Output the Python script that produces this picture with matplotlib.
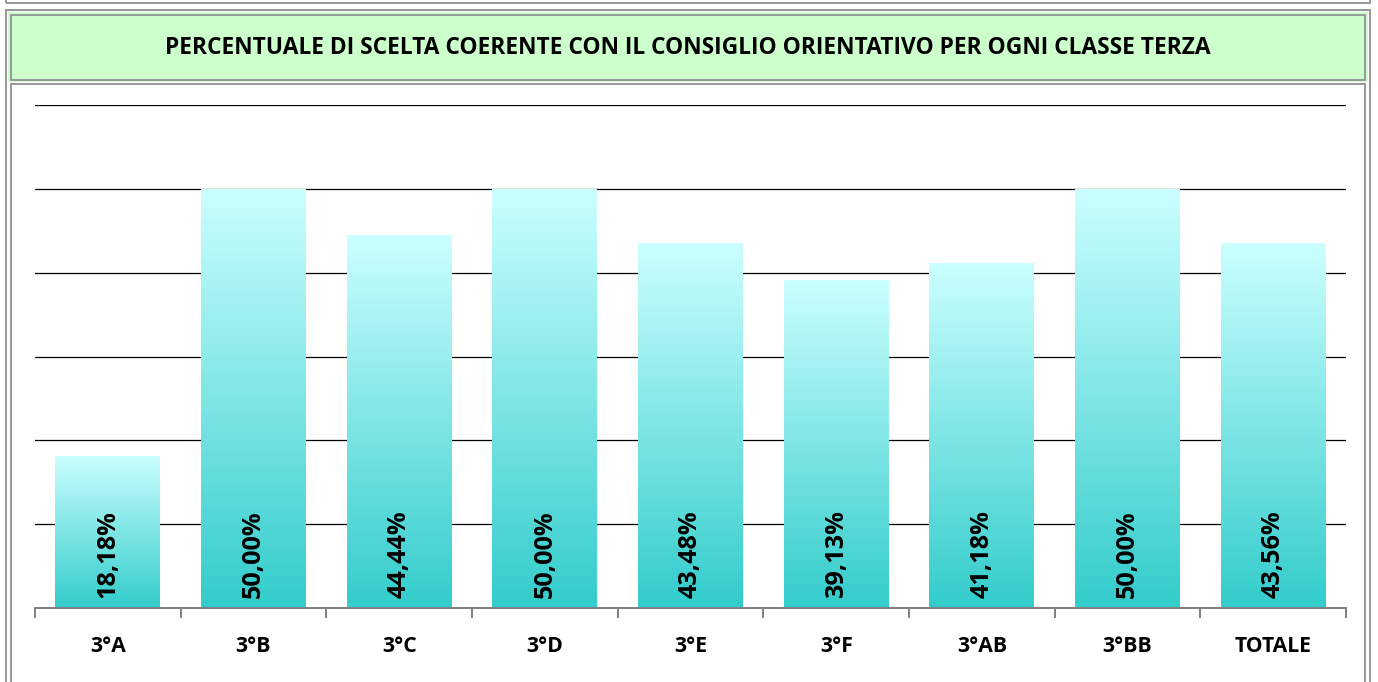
import numpy as np
import matplotlib.pyplot as plt
from matplotlib.patches import Rectangle
from matplotlib.colors import LinearSegmentedColormap

# data
classi = ["3°A", "3°B", "3°C", "3°D", "3°E", "3°F", "3°AB", "3°BB", "TOTALE"]
percentuali = [18.18, 50.00, 44.44, 50.00, 43.48, 39.13, 41.18, 50.00, 43.56]
etichette = ["18,18%", "50,00%", "44,44%", "50,00%", "43,48%", "39,13%", "41,18%", "50,00%", "43,56%"]
titolo = "PERCENTUALE DI SCELTA COERENTE CON IL CONSIGLIO ORIENTATIVO PER OGNI CLASSE TERZA"

W, H = 1378, 682
plt.rcParams['font.family'] = ['Open Sans', 'DejaVu Sans']

fig = plt.figure(figsize=(W / 100, H / 100), dpi=100)
fig.patch.set_facecolor('white')


def px(x, y):
    return x / W, 1 - y / H


def box(x0, y0, x1, y1, lw=2, ec='#999999', fc='none', z=1):
    xa, ya = px(x0, y1)
    r = Rectangle((xa, ya), (x1 - x0) / W, (y1 - y0) / H, transform=fig.transFigure,
                  lw=lw * 0.72, ec=ec, fc=fc, zorder=z)
    fig.add_artist(r)


# cornici
box(6, -20, 1370, 3)
box(8, 12, 1368, 82, lw=0, ec='none', fc='#ccffcc')
box(6, 10, 1370, 720)
box(11, 15, 1365, 80)
box(11, 84, 1365, 720)

fig.text(px(688, 48)[0], px(688, 48)[1], titolo, ha='center', va='center',
         fontsize=16.4, fontweight='bold', color='black')

ax = fig.add_axes([35 / W, (H - 608) / H, (1346 - 35) / W, (608 - 105) / H])
ax.set_facecolor('none')

for g in range(10, 61, 10):
    ax.axhline(g, color='black', lw=0.9, zorder=0)

cmap = LinearSegmentedColormap.from_list('grad', ['#33cccc', '#ccffff'])
grad = np.linspace(0, 1, 256).reshape(-1, 1)
bars = ax.bar(range(len(classi)), percentuali, width=0.72, color='none', zorder=2)
for b, lab in zip(bars, etichette):
    x0 = b.get_x()
    h = b.get_height()
    im = ax.imshow(grad, aspect='auto', cmap=cmap, origin='lower',
                   extent=[x0, x0 + b.get_width(), 0, h], zorder=2)
    im.set_clip_path(b)
    ax.text(x0 + b.get_width() / 2, 1.2, lab, rotation=90, ha='center', va='bottom',
            fontsize=18.2, fontweight='bold', color='black', zorder=3)

ax.set_xlim(-0.5, len(classi) - 0.5)
ax.set_ylim(0, 60)

for s in ['top', 'right', 'left']:
    ax.spines[s].set_visible(False)
ax.spines['bottom'].set_color('#808080')
ax.spines['bottom'].set_linewidth(1.4)
ax.spines['bottom'].set_zorder(4)

ax.set_yticks([])
ax.set_xticks(range(len(classi)))
ax.set_xticklabels(classi, fontsize=15.2, fontweight='bold')
ax.tick_params(axis='x', which='major', length=0, pad=20)
ax.set_xticks(np.arange(-0.5, len(classi)), minor=True)
ax.tick_params(axis='x', which='minor', length=7, width=1.4, color='#808080')

fig.savefig('out.png', dpi=100, facecolor='white')
